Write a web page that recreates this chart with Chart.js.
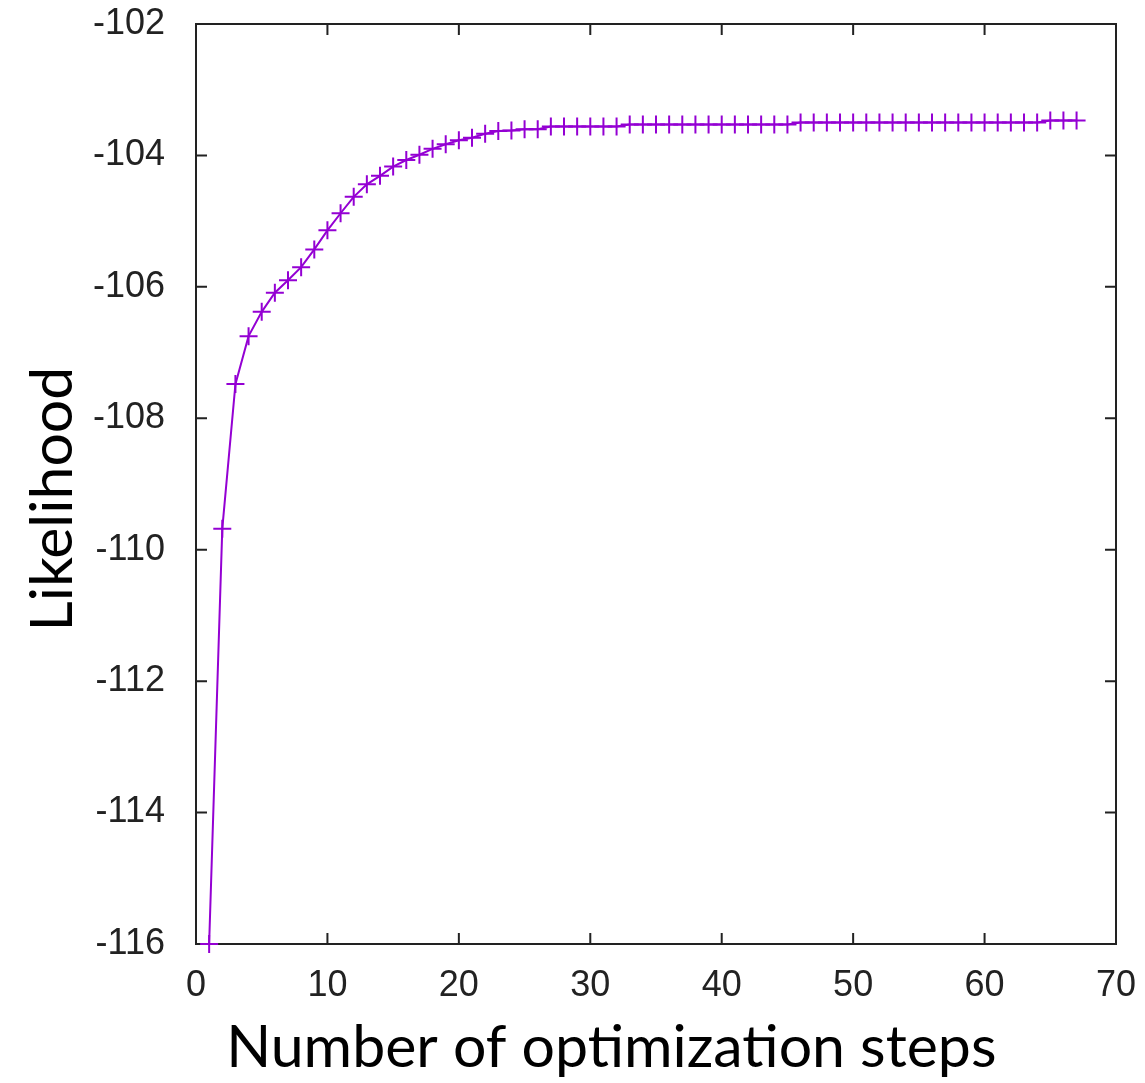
<!DOCTYPE html>
<html>
<head>
<meta charset="utf-8">
<script src="https://cdn.jsdelivr.net/npm/chart.js@4.4.1/dist/chart.umd.min.js"></script>
<style>
  html, body { margin: 0; padding: 0; background: #fff; }
  #wrap { width: 1145px; height: 1083px; }
</style>
</head>
<body>
<div id="wrap"><canvas id="chart"></canvas></div>
<script>
// optimization step numbers
const steps = [1, 2, 3, 4, 5, 6, 7, 8, 9, 10, 11, 12, 13, 14, 15, 16, 17, 18, 19, 20,
    21, 22, 23, 24, 25, 26, 27, 28, 29, 30, 31, 32, 33, 34, 35, 36, 37, 38, 39, 40,
    41, 42, 43, 44, 45, 46, 47, 48, 49, 50, 51, 52, 53, 54, 55, 56, 57, 58, 59, 60,
    61, 62, 63, 64, 65, 66, 67];

// likelihood
const likelihood = [-116, -109.68, -107.48, -106.75, -106.38, -106.09, -105.90, -105.70, -105.43, -105.14,
    -104.88, -104.63, -104.44, -104.31, -104.17, -104.07, -103.99, -103.90, -103.83, -103.77,
    -103.73, -103.67, -103.63, -103.62, -103.60, -103.60, -103.56, -103.56, -103.56, -103.56,
    -103.56, -103.56, -103.53, -103.53, -103.53, -103.53, -103.53, -103.53, -103.53, -103.53,
    -103.53, -103.53, -103.53, -103.53, -103.53, -103.50, -103.50, -103.50, -103.50, -103.50,
    -103.50, -103.50, -103.50, -103.50, -103.50, -103.50, -103.50, -103.50, -103.50, -103.50,
    -103.50, -103.50, -103.50, -103.50, -103.47, -103.47, -103.47];

const xTicks = [0, 10, 20, 30, 40, 50, 60, 70];
const yTicks = [-116, -114, -112, -110, -108, -106, -104, -102];

const lineColor = "#9400d3";

// gnuplot style frame with inward ticks on all four sides (drawn under the line)
const framePlugin = {
    id: "frame",
    beforeDatasetsDraw(chart) {
        const { ctx, chartArea: a, scales } = chart;
        const len = 11;
        ctx.save();
        ctx.strokeStyle = "#222";
        ctx.lineWidth = 2;
        ctx.strokeRect(a.left, a.top, a.right - a.left, a.bottom - a.top);
        ctx.beginPath();
        xTicks.forEach(v => {
            const px = scales.x.getPixelForValue(v);
            ctx.moveTo(px, a.bottom); ctx.lineTo(px, a.bottom - len);
            ctx.moveTo(px, a.top); ctx.lineTo(px, a.top + len);
        });
        yTicks.forEach(v => {
            const py = scales.y.getPixelForValue(v);
            ctx.moveTo(a.left, py); ctx.lineTo(a.left + len, py);
            ctx.moveTo(a.right, py); ctx.lineTo(a.right - len, py);
        });
        ctx.stroke();
        ctx.restore();
    }
};

const ctx = document.getElementById("chart").getContext("2d");
new Chart(ctx, {
    type: "line",
    data: {
        datasets: [{
            data: steps.map((s, i) => ({ x: s, y: likelihood[i] })),
            borderColor: lineColor,
            backgroundColor: lineColor,
            borderWidth: 2,
            pointStyle: "cross",
            pointRadius: 9,
            pointBorderWidth: 2,
            pointHoverRadius: 9,
            tension: 0,
            clip: false
        }]
    },
    plugins: [framePlugin],
    options: {
        responsive: true,
        maintainAspectRatio: false,
        animation: false,
        layout: { padding: { top: 24, right: 29, left: 0, bottom: 0 } },
        plugins: {
            legend: { display: false },
            tooltip: { enabled: false }
        },
        scales: {
            x: {
                type: "linear",
                min: 0,
                max: 70,
                afterBuildTicks: s => { s.ticks = xTicks.map(v => ({ value: v })); },
                afterFit: s => { s.height = 139; s.paddingLeft = 0; s.paddingRight = 0; },
                grid: { display: false },
                border: { display: false },
                ticks: {
                    color: "#222",
                    padding: 12,
                    font: { family: "Liberation Sans", size: 36 }
                },
                title: {
                    display: true,
                    text: "  Number of optimization steps",
                    align: "start",
                    color: "#000",
                    padding: { top: 0, bottom: 0 },
                    font: { family: "Lato", size: 59 }
                }
            },
            y: {
                min: -116,
                max: -102,
                afterBuildTicks: s => { s.ticks = yTicks.map(v => ({ value: v })); },
                afterFit: s => { s.width = 196; s.paddingTop = 0; s.paddingBottom = 0; },
                grid: { display: false },
                border: { display: false },
                ticks: {
                    color: "#222",
                    padding: 23,
                    font: { family: "Liberation Sans", size: 36 }
                },
                title: {
                    display: true,
                    text: "Likelihood  ",
                    color: "#000",
                    padding: { top: 18, bottom: 0 },
                    font: { family: "Lato", size: 59 }
                }
            }
        }
    }
});
</script>
</body>
</html>
